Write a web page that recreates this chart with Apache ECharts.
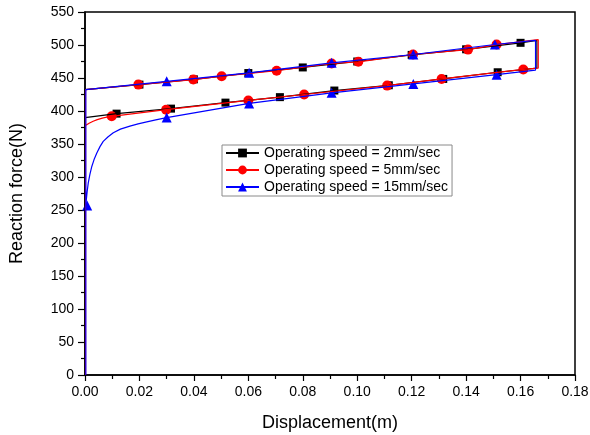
<!DOCTYPE html>
<html>
<head>
    <meta charset="utf-8">
    <title>Reaction force</title>
    <script type="text/javascript" src="https://cdn.jsdelivr.net/npm/echarts/dist/echarts.min.js"></script>
</head>
<body style="margin:0;background:#fff">
    <div id="chart" style="width: 590px; height: 435px;"></div>

    <script type="text/javascript" charset="utf-8">
        var names = ['Operating speed = 2mm/sec', 'Operating speed = 5mm/sec', 'Operating speed = 15mm/sec'];

        // loop paths [displacement, force]
        var path2 = [[0, 0], [0, 390], [0.0116, 396], [0.0316, 403.6], [0.0516, 412.7], [0.0716, 421], [0.0916, 431],
            [0.1116, 439], [0.1316, 448.6], [0.1516, 458.7], [0.166, 465], [0.166, 507], [0.16, 503.3], [0.14, 493.5],
            [0.12, 485], [0.10, 475], [0.08, 466], [0.06, 457.5], [0.04, 448], [0.02, 440], [0, 432.5], [0, 0]];
        var path5 = [[0.0002, 0], [0.0002, 378], [0.0006, 379.5], [0.0015, 381.5], [0.003, 384.5], [0.0045, 387],
            [0.0067, 389.5], [0.0098, 392], [0.0298, 402], [0.060, 416], [0.0805, 425], [0.111, 438.5], [0.131, 448.6],
            [0.161, 463], [0.1665, 465], [0.1665, 508], [0.1512, 500.7], [0.1407, 493], [0.1205, 485.6],
            [0.1004, 474.5], [0.0906, 472], [0.0704, 461], [0.0502, 452.7], [0.0398, 447.6], [0.0196, 440],
            [0.0002, 432.5], [0.0002, 0]];
        var path15 = [[0.0003, 0], [0.0003, 257], [0.0005, 266], [0.0008, 278], [0.0012, 291], [0.0018, 304],
            [0.0025, 316], [0.0033, 326], [0.0043, 336], [0.0055, 346], [0.0067, 354], [0.0085, 361], [0.0104, 367],
            [0.013, 372.5], [0.0165, 377], [0.0195, 380.5], [0.0227, 383.5], [0.026, 386.5], [0.030, 390],
            [0.0603, 411.5], [0.0906, 427.5], [0.1206, 441], [0.1512, 455], [0.1655, 462], [0.1655, 507],
            [0.1506, 500.8], [0.1206, 485.6], [0.0906, 473], [0.0603, 457.8], [0.030, 445], [0.0003, 432.5], [0.0003, 0]];

        // marker points
        var marks2 = [[0.0116, 396], [0.0316, 403.6], [0.0516, 412.7], [0.0716, 421], [0.0916, 431], [0.1116, 439],
            [0.1316, 448.6], [0.1516, 458.7], [0.16, 503.3], [0.14, 493.5], [0.12, 485], [0.10, 475], [0.08, 466],
            [0.06, 457.5], [0.04, 448], [0.02, 440]];
        var marks5 = [[0.0098, 392], [0.0298, 402], [0.060, 416], [0.0805, 425], [0.111, 438.5], [0.131, 448.6],
            [0.161, 463], [0.1512, 500.7], [0.1407, 493], [0.1205, 485.6], [0.1004, 474.5], [0.0906, 472],
            [0.0704, 461], [0.0502, 452.7], [0.0398, 447.6], [0.0196, 440]];
        var marks15 = [[0.0008, 257], [0.030, 390], [0.0603, 411.5], [0.0906, 427.5], [0.1206, 441], [0.1512, 455],
            [0.1506, 500.8], [0.1206, 485.6], [0.0906, 473], [0.0603, 457.8], [0.030, 445]];

        var colors = ['#000000', '#ff0000', '#0000ff'];
        var symbols = ['rect', 'circle', 'triangle'];
        var sizes = [8, 10, 10];
        var paths = [path2, path5, path15];
        var marks = [marks2, marks5, marks15];

        var font = 'Liberation Sans, Arial, sans-serif';
        var series = [];
        for (var i = 0; i < 3; i++) {
            series.push({
                name: names[i],
                type: 'line',
                data: paths[i],
                symbol: symbols[i],
                symbolSize: sizes[i],
                showSymbol: false,
                color: colors[i],
                lineStyle: { width: 1.2, color: colors[i] },
                animation: false
            });
        }
        for (var i = 0; i < 3; i++) {
            series.push({
                name: names[i],
                type: 'scatter',
                data: marks[i],
                symbol: symbols[i],
                symbolSize: sizes[i],
                itemStyle: { color: colors[i], opacity: 1 },
                animation: false
            });
        }

        var myChart = echarts.init(document.getElementById('chart'));
        myChart.setOption({
            animation: false,
            grid: {
                left: 85, right: 15, top: 12, bottom: 60,
                outerBoundsMode: 'none',
                containLabel: false,
                show: true, borderColor: '#000', borderWidth: 1.5
            },
            legend: {
                data: names,
                orient: 'vertical',
                left: 222, top: 145,
                padding: [1, 4, 2, 3],
                itemGap: 3,
                itemWidth: 33,
                itemHeight: 11,
                backgroundColor: '#fff',
                borderColor: '#8a8a8a',
                borderWidth: 1,
                borderRadius: 0,
                textStyle: { fontFamily: font, fontSize: 14, color: '#000' }
            },
            xAxis: {
                type: 'value',
                min: 0, max: 0.18, interval: 0.02,
                name: 'Displacement(m)',
                nameLocation: 'middle',
                nameGap: 39,
                nameTextStyle: { fontFamily: font, fontSize: 18, color: '#000' },
                axisLine: { lineStyle: { color: '#000', width: 1.5 } },
                axisTick: { show: true, length: 6, inside: false, lineStyle: { color: '#000', width: 1.2 } },
                minorTick: { show: true, splitNumber: 2, length: 4, lineStyle: { color: '#000', width: 1.2 } },
                splitLine: { show: false },
                axisLabel: {
                    fontFamily: font, fontSize: 14, color: '#000', margin: 10,
                    formatter: function (v) { return v.toFixed(2); }
                }
            },
            yAxis: {
                type: 'value',
                min: 0, max: 550, interval: 50,
                name: 'Reaction force(N)',
                nameLocation: 'middle',
                nameRotate: 90,
                nameGap: 59,
                nameTextStyle: { fontFamily: font, fontSize: 18, color: '#000' },
                axisLine: { show: true, lineStyle: { color: '#000', width: 1.5 } },
                axisTick: { show: true, length: 7, inside: false, lineStyle: { color: '#000', width: 1.2 } },
                minorTick: { show: true, splitNumber: 2, length: 4, lineStyle: { color: '#000', width: 1.2 } },
                splitLine: { show: false },
                axisLabel: { fontFamily: font, fontSize: 14, color: '#000', margin: 11 }
            },
            series: series
        });
    </script>
</body>
</html>
